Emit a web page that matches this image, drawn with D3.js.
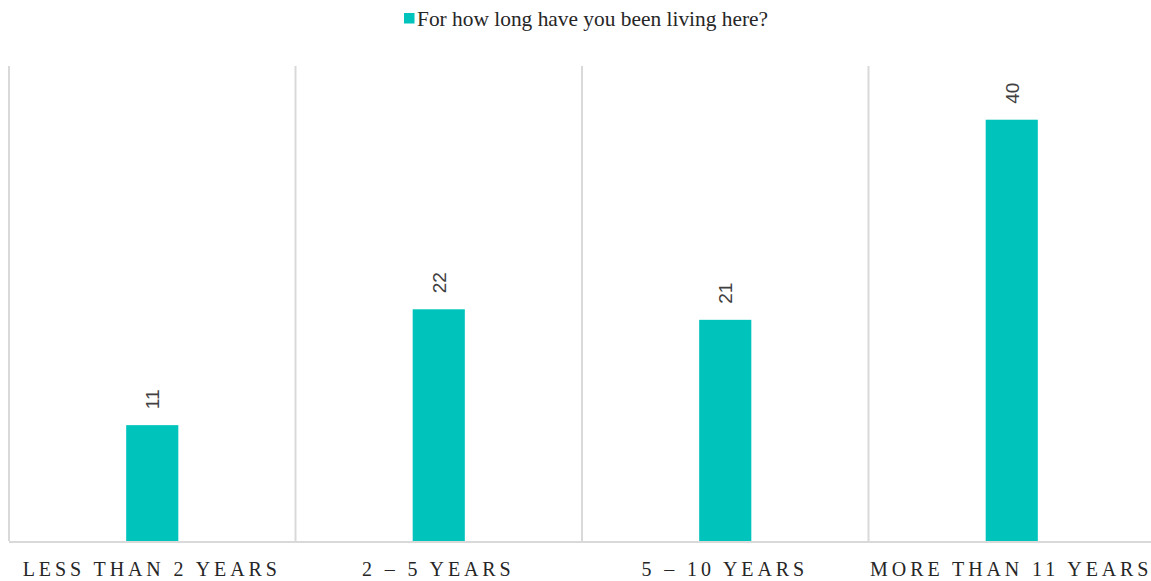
<!DOCTYPE html>
<html><head><meta charset="utf-8">
<script src="https://cdn.jsdelivr.net/npm/d3@7"></script>
<style>body{margin:0;background:#fff}svg{display:block}</style>
</head><body>
<svg id="c" width="1151" height="581"></svg>
<script>
const categories = ["LESS THAN 2 YEARS", "2 – 5 YEARS", "5 – 10 YEARS", "MORE THAN 11 YEARS"];
const values = [11, 22, 21, 40];
const seriesName = "For how long have you been living here?";
const color = "#00C4BC";

const svg = d3.select("#c");
const mLeft = 9, mRight = 1155, mTop = 66, mBottom = 541;
const x = d3.scaleBand().domain(categories).range([mLeft, mRight]).paddingInner(0.818).paddingOuter(0.409);
const xs = d3.scaleBand().domain(categories).range([mLeft, mRight]);
const y = d3.scaleLinear().domain([0, 45.1]).range([mBottom, mTop]);

// vertical separators
svg.append("g").selectAll("line").data(categories).join("line")
  .attr("x1", d => xs(d)).attr("x2", d => xs(d))
  .attr("y1", mTop).attr("y2", mBottom)
  .attr("stroke", "#d9d9d9").attr("stroke-width", 2);

// bars
svg.append("g").selectAll("rect").data(values).join("rect")
  .attr("x", (d, i) => x(categories[i]))
  .attr("width", x.bandwidth())
  .attr("y", d => y(d))
  .attr("height", d => mBottom - y(d))
  .attr("fill", color);

// baseline
svg.append("line").attr("x1", mLeft).attr("x2", 1151).attr("y1", mBottom + 1).attr("y2", mBottom + 1)
  .attr("stroke", "#d9d9d9").attr("stroke-width", 2);

// data labels rotated
svg.append("g").selectAll("text").data(values).join("text")
  .attr("transform", (d, i) => `translate(${x(categories[i]) + x.bandwidth() / 2 + 7},${y(d) - 16}) rotate(-90)`)
  .attr("text-anchor", "start")
  .attr("font-family", "Liberation Sans, Arial, sans-serif")
  .attr("font-size", 19)
  .attr("fill", "#404040")
  .text(d => d);

// category labels
svg.append("g").selectAll("text").data(categories).join("text")
  .attr("x", d => xs(d) + xs.bandwidth() / 2 - 0.5)
  .attr("y", 576)
  .attr("text-anchor", "middle")
  .attr("font-family", "Liberation Serif, serif")
  .attr("font-size", 20)
  .attr("letter-spacing", "3.9px")
  .attr("fill", "#262626")
  .text(d => d);

// legend
const lg = svg.append("g");
lg.append("rect").attr("x", 404).attr("y", 13).attr("width", 10.5).attr("height", 10.5).attr("fill", color);
lg.append("text").attr("x", 417).attr("y", 26)
  .attr("font-family", "Liberation Serif, serif").attr("font-size", 21.4)
  .attr("fill", "#262626").text(seriesName);
</script>
</body></html>
